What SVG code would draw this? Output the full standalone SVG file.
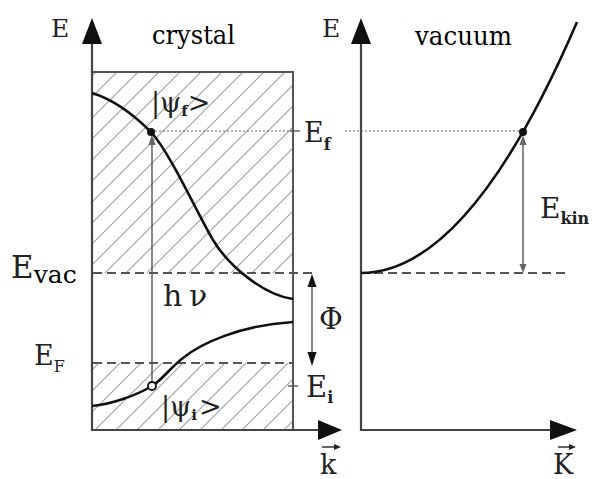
<svg xmlns="http://www.w3.org/2000/svg" width="605" height="479" viewBox="0 0 605 479">
<defs>
<pattern id="hatch" patternUnits="userSpaceOnUse" width="21" height="21">
<path d="M-2,2 L2,-2 M0,21 L21,0 M19,23 L23,19" stroke="#a0a0a0" stroke-width="1.1"/>
</pattern>
<style>
.ax{stroke:#444;stroke-width:2.2;fill:none}
.box{stroke:#555;stroke-width:2;fill:none}
.curve{stroke:#111;stroke-width:2.6;fill:none}
.dash{stroke:#555;stroke-width:2;stroke-dasharray:9 5;fill:none}
.dot{stroke:#666;stroke-width:1.1;stroke-dasharray:2 2;fill:none}
.thin{stroke:#555;stroke-width:1.4;fill:none}
.head{fill:#111}
</style>
</defs>
<rect width="605" height="479" fill="#fff"/>
<g id="hatching">
<rect x="93" y="73" width="200" height="200" fill="url(#hatch)"/>
<rect x="93" y="363" width="200" height="67" fill="url(#hatch)"/>
</g>
<g id="axes">
<path class="box" d="M92,72 H293 V430"/>
<path class="ax" d="M92,40 V430 H322"/>
<path class="head" d="M82,44 L92,18 L102,44 Z"/>
<path class="head" d="M318,420 L342,430 L318,440 Z"/>
<path class="ax" d="M361,40 V430 H552"/>
<path class="head" d="M351,44 L361,18 L371,44 Z"/>
<path class="head" d="M550,420 L577,430 L550,440 Z"/>
</g>
<g id="connectors">
<path class="dash" d="M93,273 H314"/>
<path class="dash" d="M374,273 H566"/>
<path class="dash" d="M93,363 H293"/>
<path class="dot" d="M151,131 H293"/>
<path class="thin" d="M290,131 H300"/>
<path class="dot" d="M345,131 H522"/>
<path class="thin" d="M288,386 H298"/>
<path class="thin" d="M152,382 V140"/>
<path d="M148.5,145 L152,134 L155.5,145 Z" fill="#666"/>
<path class="thin" d="M523,140 V266"/>
<path d="M519.5,145 L523,135 L526.5,145 Z" fill="#666"/>
<path d="M519.5,264 L523,273 L526.5,264 Z" fill="#666"/>
<path class="thin" d="M312,284 V354"/>
<path class="head" d="M307.5,287 L312,274 L316.5,287 Z"/>
<path class="head" d="M307.5,352 L312,366 L316.5,352 Z"/>
</g>
<g id="band-upper">
<path class="curve" d="M92,93 C112,99 131,112 151,132 C171,154 198,215 213,240 C228,265 263,295 293,299"/>
<circle cx="151" cy="132" r="4" fill="#111"/>
</g>
<g id="band-lower">
<path class="curve" d="M92,406 C112,404 135,396 152,386 C162,380 172,366 183,358 C200,344 240,325 293,322"/>
<circle cx="152" cy="386" r="4" fill="#fff" stroke="#111" stroke-width="1.8"/>
</g>
<g id="free-electron">
<path class="curve" d="M361,273 Q469,273 577,22"/>
<circle cx="523" cy="132" r="4" fill="#111"/>
</g>
<g id="labels" fill="#222" font-family="DejaVu Serif, Liberation Serif, serif">
<text x="51" y="37" font-size="25">E</text>
<text x="322" y="37" font-size="25">E</text>
<text x="152" y="44" font-size="26" textLength="83" lengthAdjust="spacingAndGlyphs" fill="#000">crystal</text>
<text x="415" y="45" font-size="26" textLength="97" lengthAdjust="spacingAndGlyphs" fill="#000">vacuum</text>
<text x="151" y="112" font-size="27">|ψ<tspan font-size="15" dy="4" font-weight="bold">f</tspan><tspan dy="-4">&gt;</tspan></text>
<text x="304" y="142" font-size="27">E<tspan font-size="16" dy="8" font-weight="bold">f</tspan></text>
<text x="540" y="218" font-size="28">E<tspan font-size="16" dy="6" font-weight="bold">kin</tspan></text>
<text x="11" y="278" font-size="31">E<tspan font-size="25" dy="5" fill="#000">vac</tspan></text>
<text x="163" y="306" font-size="30">h</text>
<text x="189" y="306" font-size="30">ν</text>
<text x="319" y="329" font-size="29">Φ</text>
<text x="34" y="365" font-size="27">E<tspan font-size="16" dy="7">F</tspan></text>
<text x="306" y="397" font-size="29">E<tspan font-size="16" dy="6" font-weight="bold">i</tspan></text>
<text x="161" y="416" font-size="27">|ψ<tspan font-size="15" dy="4" font-weight="bold">i</tspan><tspan dy="-4" dx="2">&gt;</tspan></text>
<text x="320" y="474" font-size="27">k</text>
<path d="M322,447 H336" stroke="#222" stroke-width="1.4"/>
<path d="M334,444 L341,447 L334,450 Z" fill="#222"/>
<text x="553" y="474" font-size="27">K</text>
<path d="M558,447 H571" stroke="#222" stroke-width="1.4"/>
<path d="M569,444 L576,447 L569,450 Z" fill="#222"/>
</g>
</svg>
